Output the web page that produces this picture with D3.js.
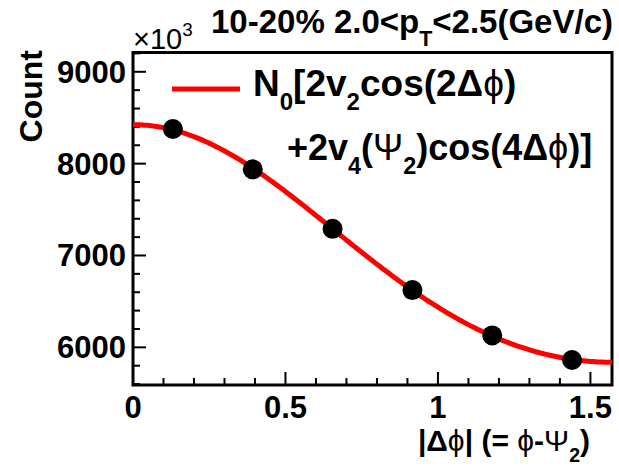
<!DOCTYPE html>
<html>
<head>
<meta charset="utf-8">
<script src="https://cdn.jsdelivr.net/npm/d3@7"></script>
<style>
  html, body { margin: 0; padding: 0; background: #fff; }
  svg { display: block; font-family: "Liberation Sans", Arial, Helvetica, sans-serif; }
</style>
</head>
<body>
<svg id="chart" width="619" height="470"></svg>
<script>
// |Δφ| bin centres (six bins of width π/12 over 0..π/2)
const dphi = [0.1309, 0.3927, 0.6545, 0.9163, 1.1781, 1.4399];
// Counts per bin, in units of 10^3
const counts = [8377, 7938, 7290, 6623, 6130, 5862];
// Fit parameters of N0[1 + 2 v2 cos(2Δφ) + 2 v4(Ψ2) cos(4Δφ)]
const fitN0 = 7036.7;
const fitV2 = 0.0919;
const fitV4 = 0.00669;
// Axis ticks
const xMajorTicks = [0, 0.5, 1, 1.5];
const xTickLabels = ["0", "0.5", "1", "1.5"];
const yMajorTicks = [6000, 7000, 8000, 9000];
const yTickLabels = ["6000", "7000", "8000", "9000"];

const svg = d3.select("#chart");
const frame = { left: 133, right: 612, top: 52.5, bottom: 385 };

const x = d3.scaleLinear().domain([0, Math.PI / 2]).range([frame.left, frame.right]);
const y = d3.scaleLinear().domain([5590, 9210]).range([frame.bottom, frame.top]);

// fit function
const fitFn = p => fitN0 * (1 + 2 * fitV2 * Math.cos(2 * p) + 2 * fitV4 * Math.cos(4 * p));

// frame box
svg.append("rect")
  .attr("x", frame.left).attr("y", frame.top)
  .attr("width", frame.right - frame.left).attr("height", frame.bottom - frame.top)
  .attr("fill", "none").attr("stroke", "#000").attr("stroke-width", 3);

// x ticks: minor every 0.1, major at 0.5 steps
const xMinor = d3.range(0, 1.5701, 0.1).map(v => +v.toFixed(2));
svg.append("g").selectAll("line").data(xMinor).join("line")
  .attr("x1", d => x(d)).attr("x2", d => x(d))
  .attr("y1", frame.bottom).attr("y2", d => frame.bottom - (Math.abs(d * 2 - Math.round(d * 2)) < 1e-6 ? 13 : 7))
  .attr("stroke", "#000").attr("stroke-width", 2);

// y ticks: minor every 200, major every 1000
const yMinor = d3.range(5600, 9201, 200);
svg.append("g").selectAll("line").data(yMinor).join("line")
  .attr("y1", d => y(d)).attr("y2", d => y(d))
  .attr("x1", frame.left).attr("x2", d => frame.left + (d % 1000 === 0 ? 13 : 7))
  .attr("stroke", "#000").attr("stroke-width", 2);

// tick labels
svg.append("g").selectAll("text").data(xMajorTicks).join("text")
  .attr("x", d => x(d)).attr("y", 418)
  .attr("text-anchor", "middle")
  .attr("font-size", 31).attr("font-weight", "bold")
  .text((d, i) => xTickLabels[i]);

svg.append("g").selectAll("text").data(yMajorTicks).join("text")
  .attr("x", 126).attr("y", d => y(d) + 11)
  .attr("text-anchor", "end")
  .attr("font-size", 31).attr("font-weight", "bold")
  .text((d, i) => yTickLabels[i]);

// fit curve
const curvePts = d3.range(0, 201).map(i => i / 200 * Math.PI / 2);
svg.append("path")
  .datum(curvePts)
  .attr("d", d3.line().x(p => x(p)).y(p => y(fitFn(p))))
  .attr("fill", "none").attr("stroke", "#ff0000").attr("stroke-width", 5);

// data points
svg.append("g").selectAll("circle").data(dphi).join("circle")
  .attr("cx", d => x(d)).attr("cy", (d, i) => y(counts[i]))
  .attr("r", 10).attr("fill", "#000");

// helper for text with sub/superscripts: parts = [[text, kind, weight]]
function richText(parent, xPos, yPos, size, parts, anchor, weight) {
  const t = parent.append("text")
    .attr("x", xPos).attr("y", yPos)
    .attr("font-size", size).attr("font-weight", weight || "bold")
    .attr("text-anchor", anchor || "start");
  let shift = 0;
  parts.forEach(([s, kind, extra]) => {
    let target = 0, fs = size;
    if (kind === "sub") { target = size * 0.38; fs = size * 0.65; }
    if (kind === "sup") { target = -size * 0.45; fs = size * 0.65; }
    const ts = t.append("tspan").attr("dy", target - shift).attr("font-size", fs).text(s);
    if (extra) ts.attr("font-weight", extra);
    shift = target;
  });
  return t;
}

// title and exponent
richText(svg, 613, 33, 33, [["10-20% 2.0<p"], ["T", "sub"], ["<2.5(GeV/c)"]], "end");
richText(svg, 133, 49, 29, [["×10"], ["3", "sup"]], "start", "normal");

// axis titles
svg.append("text")
  .attr("transform", "translate(42,50) rotate(-90)")
  .attr("text-anchor", "end")
  .attr("font-size", 32).attr("font-weight", "bold")
  .text("Count");
richText(svg, 590, 451, 30,
  [["|Δ"], ["ϕ", null, "normal"], ["| (= "], ["ϕ", null, "normal"], ["-"], ["Ψ", null, "normal"], ["2", "sub"], [")"]], "end");

// legend
svg.append("line")
  .attr("x1", 172).attr("x2", 240).attr("y1", 89).attr("y2", 89)
  .attr("stroke", "#ff0000").attr("stroke-width", 5);
richText(svg, 253, 96, 37,
  [["N"], ["0", "sub"], ["[2v"], ["2", "sub"], ["cos(2Δ"], ["ϕ", null, "normal"], [")"]], "start");
richText(svg, 287, 160, 36,
  [["+2v"], ["4", "sub"], ["("], ["Ψ", null, "normal"], ["2", "sub"], [")cos(4Δ"], ["ϕ", null, "normal"], [")]"]], "start");
</script>
</body>
</html>
